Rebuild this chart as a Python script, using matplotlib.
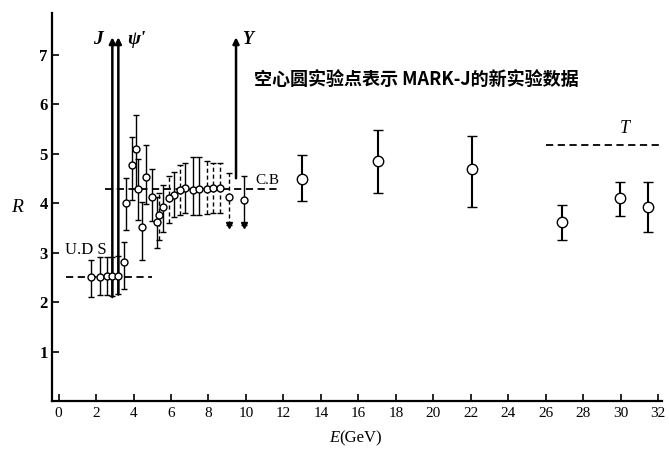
import numpy as np
import matplotlib
matplotlib.use("Agg")
import matplotlib.pyplot as plt

plt.rcParams['font.family'] = ['Liberation Serif', 'DejaVu Serif']

# ---- data ----------------------------------------------------------------
# low energy U.D.S points
uds_E = [1.75, 2.2, 2.57, 2.87, 3.19, 3.51]
uds_R = [2.5, 2.5, 2.52, 2.52, 2.52, 2.81]
uds_up = [0.35, 0.4, 0.38, 0.38, 0.4, 0.41]
uds_dn = [0.4, 0.35, 0.37, 0.4, 0.35, 0.55]

# resonance / charm region, solid error bars
res_E = [3.6, 3.9, 4.12, 4.26, 4.44, 4.67, 4.97, 5.24, 5.59, 6.18, 6.75, 7.16, 7.51, 9.91]
res_R = [4.0, 4.77, 5.09, 4.28, 3.52, 4.53, 4.13, 3.62, 3.92, 4.16, 4.3, 4.26, 4.28, 4.06]
res_up = [0.5, 0.57, 0.69, 0.6, 0.5, 0.64, 0.55, 0.5, 0.45, 0.47, 0.5, 0.68, 0.66, 0.49]
res_dn = [0.55, 0.7, 0.8, 0.62, 0.67, 0.55, 0.5, 0.53, 0.5, 0.45, 0.5, 0.5, 0.52, 0.51]

# same region, dashed error bars
dash_E = [5.38, 5.91, 6.48, 7.9, 8.26, 8.61, 9.08]
dash_R = [3.76, 4.1, 4.26, 4.28, 4.3, 4.3, 4.13]
dash_up = [0.45, 0.45, 0.5, 0.57, 0.5, 0.5, 0.47]
dash_dn = [0.5, 0.5, 0.5, 0.5, 0.5, 0.5, 0.58]

# MARK-J new data (open circles)
mk_E = [12.97, 17.02, 22.04, 26.84, 29.95, 31.46]
mk_R = [4.48, 4.85, 4.68, 3.61, 4.11, 3.91]
mk_up = [0.49, 0.62, 0.67, 0.36, 0.32, 0.52]
mk_dn = [0.44, 0.64, 0.75, 0.36, 0.37, 0.5]

# resonances (vertical arrows): name, E, R start, R end
res_names = ['J', "ψ'", 'Υ']
res_pos = [2.87, 3.19, 9.47]
res_low = [2.1, 2.15, 4.5]
res_high = [7.35, 7.35, 7.35]

# quark model predictions: label, R, E from, E to
theory_labels = ['U.D S', 'C.B', 'T']
theory_R = [2.5, 4.28, 5.17]
theory_from = [0.38, 2.5, 26.0]
theory_to = [4.97, 11.8, 32.3]

xticks = list(range(0, 33, 2))
yticks = [1, 2, 3, 4, 5, 6, 7]

# ---- figure --------------------------------------------------------------
fig = plt.figure(figsize=(6.69, 4.5), dpi=100)
ax = fig.add_axes([52 / 669, 1 - 401 / 450, 610 / 669, 388 / 450])
ax.set_xlim(-0.35, 32.2)
ax.set_ylim(0, 7.84)

for s in ['top', 'right']:
    ax.spines[s].set_visible(False)
for s in ['left', 'bottom']:
    ax.spines[s].set_linewidth(1.6)

ebkw = dict(fmt='o', mfc='white', mec='black', ecolor='black', color='black',
            capthick=1.3, mew=1.0, zorder=4)

ax.errorbar(uds_E, uds_R, yerr=[uds_dn, uds_up], markersize=5, capsize=2.5,
            elinewidth=1.0, **ebkw)
ax.errorbar(res_E, res_R, yerr=[res_dn, res_up], markersize=5, capsize=2.5,
            elinewidth=1.0, **ebkw)
d = ax.errorbar(dash_E, dash_R, yerr=[dash_dn, dash_up], markersize=5, capsize=2.5,
                elinewidth=1.0, **ebkw)
d[2][0].set_linestyle((0, (3, 2)))
ax.errorbar(mk_E, mk_R, yerr=[mk_dn, mk_up], markersize=7.5, capsize=3.5,
            elinewidth=1.5, **ebkw)

# down arrow heads at bottom of the two bars near the Upsilon
for e, r, dn in zip([9.08, 9.91], [4.13, 4.06], [0.58, 0.51]):
    ax.plot(e, r - dn, marker='v', color='black', markersize=4, zorder=5)

# resonance arrows
for name, e, lo, hi in zip(res_names, res_pos, res_low, res_high):
    ax.annotate('', xy=(e, hi), xytext=(e, lo),
                arrowprops=dict(arrowstyle='-|>', color='black', lw=1.8,
                                mutation_scale=9, shrinkA=0, shrinkB=0), zorder=3)
ax.text(2.1, 7.3, 'J', fontsize=14, style='italic', fontweight='bold',
        ha='center', va='center')
ax.text(4.15, 7.3, "ψ'", fontsize=14, style='italic', fontweight='bold',
        ha='center', va='center')
ax.text(10.1, 7.3, 'Υ', fontsize=13, style='italic', fontweight='bold',
        ha='center', va='center')

# theory lines
for lab, r, e0, e1 in zip(theory_labels, theory_R, theory_from, theory_to):
    ax.plot([e0, e1], [r, r], color='black', lw=1.3, ls=(0, (4, 2.5)), zorder=2)
ax.text(0.35, 3.05, 'U.D S', fontsize=12, ha='left', va='center')
ax.text(10.5, 4.45, 'C.B', fontsize=11, ha='left', va='center')
ax.text(30.2, 5.5, 'T', fontsize=13, style='italic', ha='center', va='center')

ax.text(10.45, 6.5, '空心圆实验点表示 MARK-J的新实验数据', fontsize=13,
        fontweight='bold', family=['Noto Sans CJK SC', 'DejaVu Sans'],
        ha='left', va='center')

# ticks
ax.set_xticks(xticks)
ax.set_xticklabels([str(t) for t in xticks])
ax.set_yticks(yticks)
ax.tick_params(axis='x', direction='in', length=5, width=1.2, labelsize=11, pad=4)
ax.tick_params(axis='y', direction='in', length=5, width=1.2, labelsize=12, pad=3)
for t in ax.get_yticklabels():
    t.set_fontweight('bold')

ax.set_ylabel('R', fontsize=14, style='italic', rotation=0, labelpad=16, va='center')
ax.text(15.0, -0.75, 'E', fontsize=12, style='italic', ha='right', va='center')
ax.text(15.0, -0.75, '(GeV)', fontsize=12, ha='left', va='center')

fig.savefig('out.png', dpi=100)
